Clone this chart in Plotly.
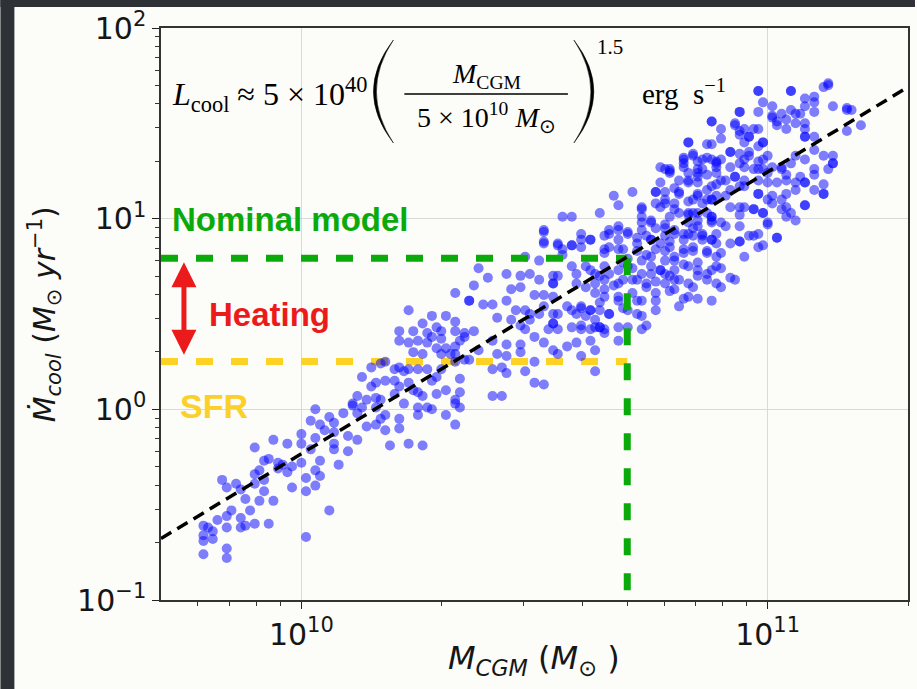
import numpy as np
import plotly.graph_objects as go

# ---------------- data ----------------
# log10 of M_CGM [Msun] and log10 of Mdot_cool [Msun/yr] for each simulated halo
log_mcgm = [
    10.03, 10.02, 10.04, 10.06, 10.07, 10.07, 10.05, 10.09, 10.11, 10.12, 10.12, 10.10,
    9.90, 9.94, 9.97, 10.00, 10.00, 10.03, 10.02, 10.07, 10.07, 10.10, 10.08,
    9.92, 9.93, 9.95, 9.96, 9.97, 9.95, 9.91, 9.90, 9.92, 9.98, 10.00, 10.03, 10.04, 10.04,
    9.83, 9.84, 9.86, 9.87, 9.88, 9.90, 9.92, 9.91, 9.94, 9.98, 10.01, 10.01, 10.03,
    9.85, 9.89, 9.84, 9.82, 9.87, 9.87, 9.88, 9.90, 9.93, 9.84, 10.06,
    9.79, 9.80, 9.79, 9.81, 9.81, 9.79, 9.79, 9.84, 9.84, 10.01,
    10.23, 10.28, 10.31, 10.33, 10.36, 10.26, 10.29, 10.30, 10.21, 10.24, 10.27, 10.28, 10.30,
    10.33, 10.35, 10.37, 10.21, 10.23, 10.25, 10.27, 10.29, 10.31, 10.33, 10.34, 10.35, 10.24,
    10.26, 10.30, 10.32, 10.33, 10.36, 10.38, 10.13, 10.15, 10.17, 10.18, 10.20, 10.21, 10.22,
    10.23, 10.25, 10.27, 10.29, 10.30, 10.33, 10.35, 10.34, 10.15, 10.16, 10.18, 10.20, 10.21,
    10.23, 10.24, 10.25, 10.26, 10.28, 10.29, 10.31, 10.34, 10.33, 10.12, 10.14, 10.16, 10.11,
    10.13, 10.16, 10.17, 10.20, 10.22, 10.25, 10.27, 10.25, 10.28, 10.33, 10.34, 10.31, 10.33,
    10.17, 10.18, 10.21, 10.21, 10.18, 10.14, 10.16, 10.19, 10.23, 10.26,
    10.52, 10.52, 10.55, 10.58, 10.60, 10.62, 10.60, 10.48, 10.51, 10.56, 10.38, 10.40, 10.44,
    10.47, 10.49, 10.51, 10.54, 10.54, 10.59, 10.61, 10.63, 10.63, 10.33, 10.37, 10.36, 10.39,
    10.41, 10.44, 10.45, 10.47, 10.50, 10.52, 10.54, 10.57, 10.58, 10.60, 10.62, 10.63, 10.46,
    10.48, 10.49, 10.51, 10.54, 10.55, 10.59, 10.61, 10.42, 10.45, 10.49, 10.47, 10.48, 10.50,
    10.53, 10.54, 10.55, 10.58, 10.60, 10.62, 10.64, 10.41, 10.44, 10.47, 10.52, 10.54, 10.57,
    10.59, 10.62, 10.63, 10.42, 10.44, 10.47, 10.50, 10.55, 10.60, 10.63, 10.41, 10.44, 10.48,
    10.43, 10.50, 10.52, 10.41, 10.43,
    10.67, 10.68, 10.71, 10.64, 10.56, 10.58, 10.66, 10.73, 10.75, 10.73, 10.76, 10.78, 10.77,
    10.80, 10.81, 10.83, 10.85, 10.86, 10.87, 10.88, 10.89, 10.83, 10.81, 10.79, 10.85, 10.89,
    10.77, 10.79, 10.81, 10.84, 10.87, 10.88, 10.76, 10.78, 10.83, 10.85, 10.88, 10.80, 10.65,
    10.68, 10.68, 10.70, 10.72, 10.73, 10.74, 10.75, 10.78, 10.79, 10.80, 10.82, 10.84, 10.86,
    10.88, 10.89, 10.65, 10.68, 10.70, 10.72, 10.74, 10.76, 10.78, 10.80, 10.82, 10.84, 10.87,
    10.89, 10.65, 10.68, 10.70, 10.73, 10.75, 10.77, 10.78, 10.80, 10.83, 10.85, 10.87, 10.89,
    10.65, 10.67, 10.69, 10.72, 10.74, 10.76, 10.78, 10.81, 10.84, 10.87, 10.89, 10.65, 10.68,
    10.71, 10.73, 10.76, 10.79, 10.82, 10.85, 10.88, 10.64, 10.66, 10.69, 10.72, 10.76, 10.81,
    10.68, 10.70, 10.73, 10.74, 10.64, 10.65, 10.68,
    10.92, 10.94, 10.95, 10.97, 10.99, 11.01, 11.03, 11.05, 11.08, 11.06, 11.04, 10.91, 10.94,
    10.96, 10.98, 11.00, 10.99, 11.02, 10.95, 10.93, 10.90, 10.90, 10.92, 10.90,
    10.98, 11.05, 11.08, 11.10, 11.08, 11.10, 11.07, 10.99, 11.01, 11.03, 11.05, 11.01, 11.02,
    11.04, 11.06, 11.08, 11.10, 11.08, 10.94, 10.98, 10.88, 10.90, 10.93, 10.95, 10.97, 10.94,
    10.96, 10.95, 10.99, 10.98, 10.96, 10.94, 11.00, 10.98, 10.92, 10.90, 10.83, 10.87, 10.84,
    10.82, 10.78, 10.79, 10.82, 10.85, 10.88, 10.89, 10.85, 10.92, 10.94, 10.95, 10.97, 10.99,
    11.01, 11.03, 11.05, 11.06, 11.08, 11.10, 11.10, 11.07, 11.04, 11.02, 11.00, 10.98, 10.95,
    10.93, 10.91, 11.08, 11.10, 11.06, 11.04, 11.01, 10.98, 10.94, 10.92,
    11.13, 11.12, 11.17, 11.18, 11.20, 11.17, 11.14, 11.14, 11.13, 11.12, 11.12,
]
log_mdot = [
    -0.00, -0.06, -0.08, -0.04, -0.07, -0.12, -0.11, -0.02, 0.02, -0.02, -0.16, -0.14,
    -0.20, -0.16, -0.18, -0.13, -0.18, -0.15, -0.21, -0.18, -0.21, -0.22, -0.29,
    -0.27, -0.26, -0.28, -0.29, -0.33, -0.31, -0.32, -0.34, -0.37, -0.30, -0.28, -0.32, -0.27, -0.35,
    -0.37, -0.41, -0.39, -0.42, -0.47, -0.39, -0.43, -0.48, -0.48, -0.41, -0.36, -0.43, -0.40,
    -0.53, -0.53, -0.56, -0.58, -0.57, -0.62, -0.61, -0.60, -0.60, -0.62, -0.53,
    -0.61, -0.62, -0.66, -0.64, -0.68, -0.69, -0.76, -0.73, -0.78, -0.67,
    0.52, 0.49, 0.49, 0.46, 0.57, 0.45, 0.43, 0.41, 0.41, 0.41, 0.40, 0.38, 0.37,
    0.41, 0.40, 0.41, 0.36, 0.35, 0.36, 0.35, 0.32, 0.32, 0.33, 0.36, 0.38, 0.30,
    0.29, 0.29, 0.29, 0.29, 0.26, 0.31, 0.17, 0.22, 0.24, 0.25, 0.21, 0.22, 0.20,
    0.21, 0.21, 0.21, 0.17, 0.21, 0.25, 0.26, 0.16, 0.12, 0.14, 0.15, 0.15, 0.12,
    0.14, 0.10, 0.09, 0.07, 0.15, 0.08, 0.10, 0.09, 0.05, 0.07, 0.05, 0.06, 0.03,
    0.01, 0.01, 0.05, 0.08, 0.03, 0.01, 0.01, -0.03, -0.00, 0.03, 0.01, -0.03, -0.08,
    -0.05, -0.03, -0.05, -0.10, -0.11, -0.09, -0.08, -0.19, -0.18, -0.19,
    0.93, 0.87, 0.86, 0.86, 0.92, 0.89, 0.85, 0.80, 0.78, 0.81, 0.74, 0.69, 0.71,
    0.70, 0.71, 0.68, 0.70, 0.66, 0.71, 0.75, 0.71, 0.66, 0.61, 0.65, 0.57, 0.55,
    0.55, 0.57, 0.63, 0.64, 0.60, 0.60, 0.59, 0.54, 0.52, 0.53, 0.52, 0.47, 0.52,
    0.52, 0.50, 0.50, 0.50, 0.50, 0.50, 0.49, 0.48, 0.47, 0.47, 0.44, 0.42, 0.38,
    0.42, 0.45, 0.42, 0.43, 0.42, 0.42, 0.43, 0.36, 0.34, 0.34, 0.35, 0.31, 0.33,
    0.35, 0.36, 0.31, 0.29, 0.28, 0.30, 0.25, 0.29, 0.28, 0.20, 0.21, 0.19, 0.20,
    0.22, 0.14, 0.13, 0.07, 0.07,
    1.12, 1.07, 1.14, 1.03, 1.01, 1.01, 0.92, 1.01, 0.99, 1.06, 1.14, 1.10, 1.19,
    1.16, 1.13, 1.09, 1.12, 1.08, 1.15, 1.10, 1.18, 1.19, 1.20, 1.24, 1.24, 1.24,
    1.06, 1.01, 1.03, 1.03, 1.03, 1.01, 0.95, 0.95, 0.98, 0.96, 0.98, 1.08, 0.91,
    0.94, 0.89, 0.92, 0.87, 0.94, 0.91, 0.89, 0.91, 0.88, 0.92, 0.89, 0.91, 0.92,
    0.89, 0.87, 0.82, 0.84, 0.79, 0.83, 0.81, 0.84, 0.83, 0.80, 0.82, 0.83, 0.82,
    0.80, 0.75, 0.73, 0.75, 0.71, 0.75, 0.73, 0.71, 0.73, 0.75, 0.73, 0.71, 0.75,
    0.68, 0.65, 0.68, 0.68, 0.64, 0.67, 0.66, 0.68, 0.64, 0.68, 0.66, 0.59, 0.57,
    0.61, 0.57, 0.57, 0.62, 0.58, 0.58, 0.57, 0.52, 0.50, 0.53, 0.50, 0.52, 0.54,
    0.43, 0.43, 0.42, 0.44, 0.43, 0.40, 0.36,
    1.06, 1.02, 1.06, 1.05, 1.03, 1.08, 1.05, 1.03, 1.07, 0.99, 1.01, 0.96, 0.88,
    0.91, 0.92, 0.97, 0.86, 0.90, 0.80, 0.68, 0.82, 0.74, 0.69, 0.64,
    1.67, 1.67, 1.63, 1.61, 1.59, 1.56, 1.55, 1.61, 1.59, 1.55, 1.57, 1.54, 1.51,
    1.52, 1.50, 1.47, 1.43, 1.43, 1.56, 1.56, 1.51, 1.42, 1.50, 1.47, 1.47, 1.44,
    1.43, 1.40, 1.40, 1.38, 1.35, 1.34, 1.33, 1.30, 1.35, 1.31, 1.40, 1.39, 1.34,
    1.32, 1.26, 1.26, 1.27, 1.30, 1.31, 1.27, 1.26, 1.27, 1.29, 1.27, 1.26, 1.26,
    1.27, 1.26, 1.29, 1.33, 1.31, 1.36, 1.26, 1.22, 1.20, 1.19, 1.19, 1.20, 1.20,
    1.22, 1.20, 1.19, 1.15, 1.15, 1.13, 1.12, 1.13, 1.17, 1.15,
    1.71, 1.69, 1.58, 1.57, 1.49, 1.46, 1.33, 1.29, 1.26, 1.13, 1.18,
]

# additional haloes in the crowded high-mass core of the cloud
log_mcgm_core = [
    10.77, 10.79, 10.82, 10.84, 10.87, 10.89, 10.86, 10.83, 10.85, 10.88, 10.76, 10.78,
    10.81, 10.84, 10.87, 10.89, 10.73, 10.76, 10.78, 10.80, 10.83, 10.85, 10.88, 10.73,
    10.75, 10.78, 10.80, 10.82, 10.84, 10.86, 10.88, 10.66, 10.68, 10.70, 10.72, 10.75,
    10.77, 10.79, 10.82, 10.84, 10.87, 10.65, 10.66, 10.69, 10.73, 10.75, 10.78, 10.80,
    10.82, 10.85, 10.88, 10.69, 10.71, 10.75, 10.77, 10.79, 10.80, 10.83, 10.85, 10.62,
    10.64, 10.66, 10.68, 10.71, 10.74, 10.76, 10.80, 10.83, 10.61, 10.63, 10.65, 10.68,
    10.72, 10.60, 10.62, 10.64, 10.66, 10.70, 10.73, 10.60, 10.63, 10.65, 10.54, 10.52,
    10.54, 10.55, 10.59, 10.58, 10.56, 10.60, 10.62, 10.52, 10.52, 10.55, 10.58,
    10.98, 11.05, 10.94, 10.88, 10.90, 10.93, 10.94, 10.96, 10.98, 10.99, 11.01, 11.02,
    11.04, 11.06, 11.08, 11.08, 11.10, 11.13, 11.14, 11.17, 10.83, 10.88, 10.86, 10.89,
    10.92, 10.95, 10.96, 10.99, 10.98, 11.00, 11.03, 11.04, 11.06, 11.08, 11.10, 11.12,
    11.14, 11.12, 11.08, 10.82, 10.83, 10.85, 10.87, 10.90, 10.93, 10.95, 10.98, 11.00,
    11.03, 11.04, 10.85, 10.88, 10.91, 10.94, 10.97, 10.99, 10.83, 10.85, 10.88, 10.90,
    10.94, 10.97, 11.00, 11.02, 10.83, 10.86, 10.89, 10.92, 10.94, 10.98,
]
log_mdot_core = [
    1.27, 1.25, 1.29, 1.33, 1.32, 1.29, 1.26, 1.20, 1.19, 1.17, 1.14, 1.14,
    1.14, 1.10, 1.10, 1.12, 1.05, 1.08, 1.08, 1.05, 1.02, 1.03, 0.99, 0.98,
    0.98, 0.97, 0.94, 0.92, 0.95, 0.91, 0.89, 0.94, 0.96, 0.93, 0.90, 0.89,
    0.87, 0.85, 0.84, 0.85, 0.83, 0.84, 0.85, 0.84, 0.78, 0.80, 0.78, 0.78,
    0.76, 0.77, 0.73, 0.77, 0.74, 0.71, 0.73, 0.70, 0.68, 0.66, 0.70, 0.73,
    0.70, 0.71, 0.66, 0.68, 0.66, 0.61, 0.63, 0.59, 0.64, 0.61, 0.63, 0.59,
    0.57, 0.54, 0.52, 0.56, 0.50, 0.52, 0.49, 0.44, 0.43, 0.42, 0.45, 0.54,
    0.66, 0.70, 0.66, 0.75, 0.84, 0.89, 0.89, 0.94, 0.88, 0.87, 0.86,
    1.67, 1.67, 1.56, 1.51, 1.47, 1.49, 1.46, 1.43, 1.47, 1.40, 1.53, 1.49,
    1.47, 1.55, 1.50, 1.43, 1.64, 1.70, 1.59, 1.57, 1.40, 1.39, 1.31, 1.30,
    1.35, 1.31, 1.33, 1.31, 1.26, 1.24, 1.27, 1.23, 1.19, 1.19, 1.23, 1.33,
    1.29, 1.13, 1.07, 1.31, 1.24, 1.22, 1.23, 1.20, 1.22, 1.17, 1.13, 1.10,
    1.10, 1.06, 1.13, 1.10, 1.12, 1.06, 1.05, 1.03, 1.03, 0.99, 1.01, 0.98,
    0.96, 0.91, 0.98, 0.90, 0.92, 0.89, 0.92, 0.87, 0.88, 0.85,
]

# power-law fit (dashed black), read at the plot edges
fit_mcgm = [5e9, 2e11]
fit_mdot = [0.21, 49.0]

# nominal model and SFR levels
nominal_mcgm = 5e10
nominal_mdot = 6.2
sfr_mdot = 1.78

# axes
x_range = [5e9, 2e11]
y_range = [0.1, 100.0]
xtick_vals = [1e10, 1e11]
xtick_text = ["10<sup>10</sup>", "10<sup>11</sup>"]
ytick_vals = [0.1, 1.0, 10.0, 100.0]
ytick_text = ["10<sup>−1</sup>", "10<sup>0</sup>", "10<sup>1</sup>", "10<sup>2</sup>"]
xminor = [6e9, 7e9, 8e9, 9e9] + [k * 1e10 for k in range(2, 10)] + [2e11]
yminor = [k * m for m in (0.1, 1.0, 10.0) for k in range(2, 10)]

# ---------------- layout geometry ----------------
W, H = 917, 689
ML, MR, MT, MB = 161, 7, 28, 89
PW, PH = W - ML - MR, H - MT - MB


def pp(x, y):
    """pixel -> paper coordinates (for decorations / labels)"""
    return (x - ML) / PW, (H - MB - y) / PH


BG = "#fcfcf8"
DARK = "#2e3136"
INK = "#161616"

mcgm = 10 ** np.array(log_mcgm + log_mcgm_core)
mdot = 10 ** np.array(log_mdot + log_mdot_core)

fig = go.Figure()

# SFR (yellow dashed)
fig.add_trace(go.Scatter(
    x=[x_range[0], nominal_mcgm], y=[sfr_mdot, sfr_mdot], mode="lines",
    line=dict(color="#fdd225", width=7, dash="17px,18px"), hoverinfo="skip", showlegend=False))

# scatter
fig.add_trace(go.Scatter(
    x=mcgm, y=mdot, mode="markers",
    marker=dict(size=10, color="rgba(0,0,255,0.5)", line=dict(width=0)),
    showlegend=False))

# nominal model (green dashed)
fig.add_trace(go.Scatter(
    x=[x_range[0], nominal_mcgm], y=[nominal_mdot, nominal_mdot], mode="lines",
    line=dict(color="#0aaa0a", width=7, dash="17px,18px"), hoverinfo="skip", showlegend=False))
fig.add_trace(go.Scatter(
    x=[nominal_mcgm, nominal_mcgm], y=[nominal_mdot, y_range[0]], mode="lines",
    line=dict(color="#0aaa0a", width=7, dash="17px,18px"), hoverinfo="skip", showlegend=False))

# fit line
fig.add_trace(go.Scatter(
    x=fit_mcgm, y=fit_mdot, mode="lines",
    line=dict(color="black", width=3.5, dash="12px,7px"), hoverinfo="skip", showlegend=False))

tickfont = dict(family="DejaVu Sans", size=30, color=INK)
axis_common = dict(
    type="log", showline=True, linecolor="#333", linewidth=1.5, mirror=True,
    ticks="outside", ticklen=7, tickwidth=1.3, tickcolor="#222",
    showgrid=True, gridcolor="#d9d9d9", gridwidth=1, zeroline=False,
    tickfont=tickfont, tickmode="array",
)

fig.update_xaxes(
    range=[np.log10(x_range[0]), np.log10(x_range[1])],
    tickvals=xtick_vals, ticktext=xtick_text,
    minor=dict(tickmode="array", tickvals=xminor, ticks="outside", ticklen=4,
               tickwidth=1, tickcolor="#333", showgrid=False),
    **axis_common)
fig.update_yaxes(
    range=[np.log10(y_range[0]), np.log10(y_range[1])],
    tickvals=ytick_vals, ticktext=ytick_text,
    minor=dict(tickmode="array", tickvals=yminor, ticks="outside", ticklen=4,
               tickwidth=1, tickcolor="#333", showgrid=False),
    **axis_common)

shapes = []
# dark frame strips of the screenshot
x0, y0 = pp(0, 0)
x1, y1 = pp(14, H)
shapes.append(dict(type="rect", xref="paper", yref="paper", x0=x0, y0=y1, x1=x1, y1=y0,
                   fillcolor=DARK, line=dict(width=0), layer="below"))
x0, y0 = pp(0, 0)
x1, y1 = pp(W, 7)
shapes.append(dict(type="rect", xref="paper", yref="paper", x0=x0, y0=y1, x1=x1, y1=y0,
                   fillcolor=DARK, line=dict(width=0), layer="below"))


def paren_path(xe, xo, xi, ytop, ybot):
    """crescent-shaped parenthesis: ends at xe, outer bulge xo, inner bulge xi (pixels)"""
    ym = (ytop + ybot) / 2
    a = pp(xe, ytop)
    b = pp(2 * xo - xe, ym)
    c = pp(xe, ybot)
    d = pp(2 * xi - xe, ym)
    return (f"M {a[0]},{a[1]} Q {b[0]},{b[1]} {c[0]},{c[1]} "
            f"Q {d[0]},{d[1]} {a[0]},{a[1]} Z")


shapes.append(dict(type="path", xref="paper", yref="paper",
                   path=paren_path(394, 374, 377, 40, 143), fillcolor="black",
                   line=dict(width=0.5, color="black")))
shapes.append(dict(type="path", xref="paper", yref="paper",
                   path=paren_path(575, 595, 592, 40, 143), fillcolor="black",
                   line=dict(width=0.5, color="black")))
# fraction bar
fa = pp(405, 94)
fb = pp(569, 94)
shapes.append(dict(type="line", xref="paper", yref="paper", x0=fa[0], y0=fa[1], x1=fb[0], y1=fb[1],
                   line=dict(color="black", width=1.5)))

annotations = []


def label(text, x, y, size, color=INK, family="Liberation Serif", xanchor="center", angle=0):
    px_, py_ = pp(x, y)
    annotations.append(dict(text=text, x=px_, y=py_, xref="paper", yref="paper",
                            xanchor=xanchor, yanchor="middle", showarrow=False,
                            textangle=angle,
                            font=dict(family=family, size=size, color=color)))


serif = "Liberation Serif"
label("<i>L</i><sub>cool</sub> ≈ 5 × 10<sup>40</sup>", 170, 95, 32, "black", serif, "left")
label("<i>M</i><sub>CGM</sub>", 487, 75, 28, "black", serif)
label("5 × 10<sup>10</sup> <i>M</i><sub>⊙</sub>", 487, 118, 28, "black", serif)
label("1.5", 611, 47, 21, "black", serif)
label("erg  s<sup>−1</sup>", 641, 92, 29, "black", serif, "left")

sans_b = "Liberation Sans"
label("<b>Nominal model</b>", 291, 220, 33, "#0aaa0a", sans_b)
label("<b>Heating</b>", 270, 314, 33, "#ec1b1b", sans_b)
label("<b>SFR</b>", 214, 406, 34, "#fbd02a", sans_b)

# axis titles
label("<i>M</i><sub><i>CGM</i></sub> (<i>M</i><sub>⊙</sub> )", 535, 660, 32, INK, "DejaVu Sans")
label("<i>Ṁ</i><sub><i>cool</i></sub> (<i>M</i><sub>⊙</sub> <i>yr</i><sup>−1</sup>)", 44, 314, 30,
      INK, "DejaVu Sans", angle=-90)

# red double-headed "Heating" arrow (data coords are log10 for log axes)
arrow_x = 5.6e9
arrow_top = 5.9
arrow_bot = 1.9
annotations.append(dict(
    x=np.log10(arrow_x), y=np.log10(arrow_top), xref="x", yref="y",
    ax=np.log10(arrow_x), ay=np.log10(arrow_bot), axref="x", ayref="y",
    text="", showarrow=True, arrowhead=2, startarrowhead=2, arrowside="end+start",
    arrowwidth=5, arrowsize=1, startarrowsize=1, arrowcolor="#ec1b1b", standoff=0, startstandoff=0))

fig.update_layout(
    width=W, height=H,
    margin=dict(l=ML, r=MR, t=MT, b=MB, pad=0),
    paper_bgcolor=BG, plot_bgcolor=BG,
    shapes=shapes, annotations=annotations,
    showlegend=False,
)

fig.write_html("out.html")
